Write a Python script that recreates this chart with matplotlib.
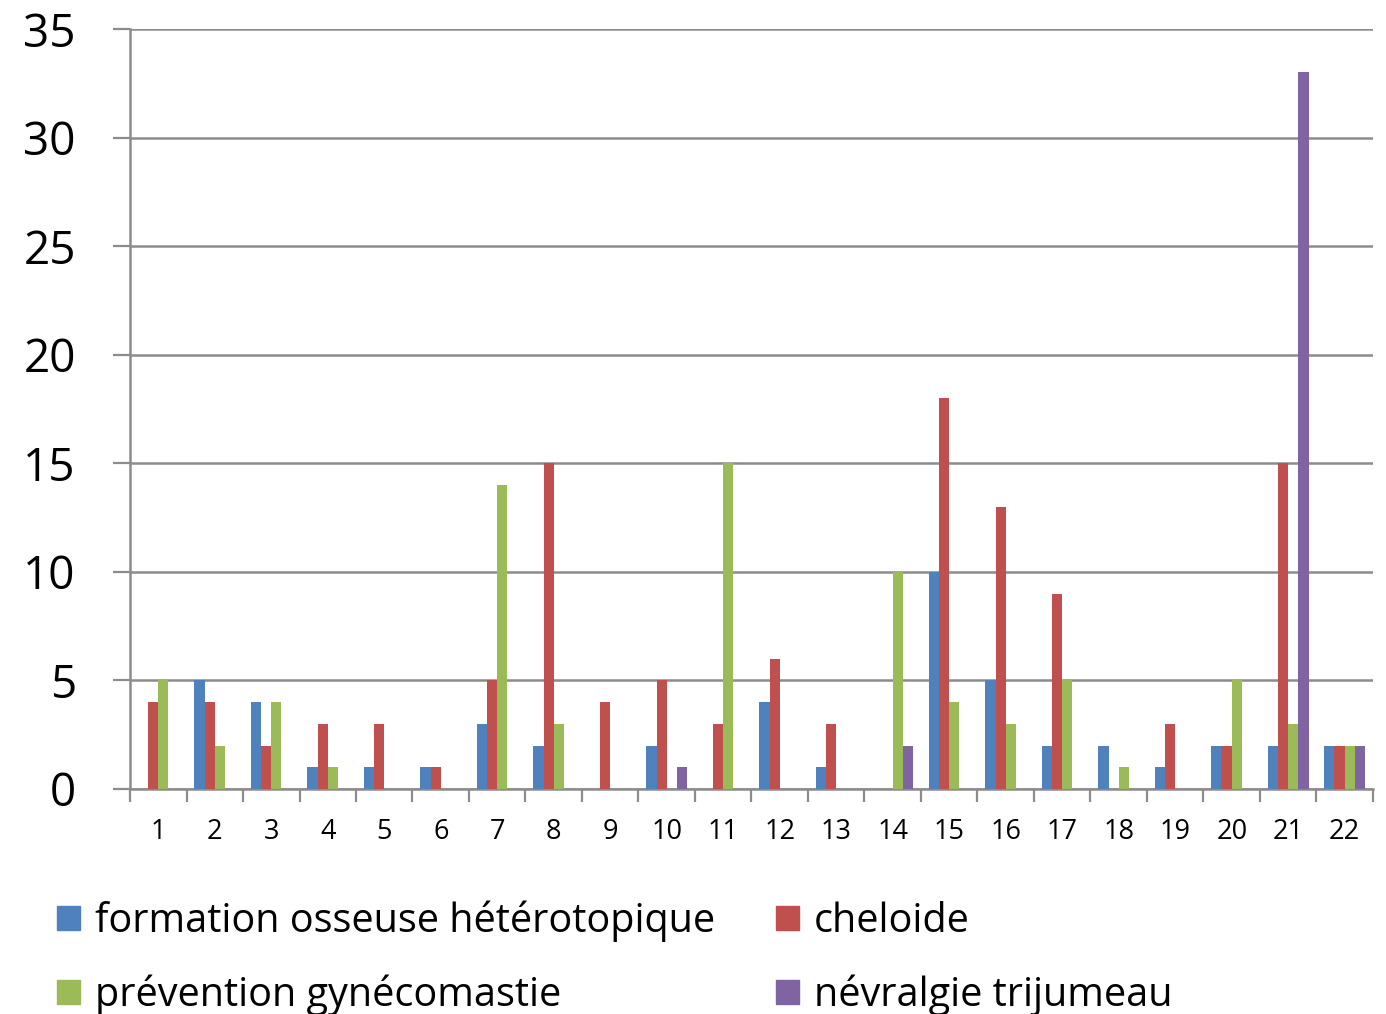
import numpy as np
import matplotlib.pyplot as plt
from matplotlib.patches import Patch
from matplotlib.ticker import MultipleLocator, FixedLocator

plt.rcParams['font.family'] = ['Open Sans', 'DejaVu Sans']

# Number of cases per category for each indication
categories = list(range(1, 23))
formation = [0, 5, 4, 1, 1, 1, 3, 2, 0, 2, 0, 4, 1, 0, 10, 5, 2, 2, 1, 2, 2, 2]
cheloide = [4, 4, 2, 3, 3, 1, 5, 15, 4, 5, 3, 6, 3, 0, 18, 13, 9, 0, 3, 2, 15, 2]
gynecomastie = [5, 2, 4, 1, 0, 0, 14, 3, 0, 0, 15, 0, 0, 10, 4, 3, 5, 1, 0, 5, 3, 2]
nevralgie = [0, 0, 0, 0, 0, 0, 0, 0, 0, 1, 0, 0, 0, 2, 0, 0, 0, 0, 0, 0, 33, 2]

labels = ['formation osseuse hétérotopique', 'cheloide',
          'prévention gynécomastie', 'névralgie trijumeau']
colors = ['#4F81BD', '#C0504D', '#9BBB59', '#8064A2']
series = [formation, cheloide, gynecomastie, nevralgie]

fig = plt.figure(figsize=(13.86, 10.14), dpi=100)
ax = fig.add_axes([0.0938, 0.2219, 0.8968, 0.7495])

x = np.arange(1, 23)
w = 0.181
for i, (vals, c) in enumerate(zip(series, colors)):
    ax.bar(x + (i - 1.5) * w, vals, width=w, color=c, zorder=3)

ax.set_xlim(0.5, 22.5)
ax.set_ylim(0, 35)
ax.yaxis.set_major_locator(MultipleLocator(5))
ax.grid(axis='y', color='#8c8c8c', linewidth=1.8, zorder=0)

for side in ['top', 'right']:
    ax.spines[side].set_visible(False)
for side in ['left', 'bottom']:
    ax.spines[side].set_color('#8c8c8c')
    ax.spines[side].set_linewidth(1.8)

# category labels at centres, tick marks between categories
ax.set_xticks(x)
ax.set_xticklabels([str(c) for c in categories])
ax.xaxis.set_minor_locator(FixedLocator(np.arange(0.5, 23, 1)))
ax.tick_params(axis='x', which='major', length=0, pad=21, labelsize=19.5)
ax.tick_params(axis='x', which='minor', length=9, width=1.6, color='#8c8c8c')
ax.tick_params(axis='y', length=12, width=1.6, color='#8c8c8c', pad=27,
               labelsize=33)

handles = [Patch(color=c) for c in colors]
order = [0, 2, 1, 3]
fig.legend([handles[i] for i in order], [labels[i] for i in order],
           loc='upper left', bbox_to_anchor=(0.041, 0.112), ncol=2,
           frameon=False, fontsize=28.5, handlelength=0.58, handleheight=0.58,
           handletextpad=0.38, columnspacing=1.54, labelspacing=0.82,
           borderpad=0, borderaxespad=0)

fig.savefig('out.png', dpi=100)
